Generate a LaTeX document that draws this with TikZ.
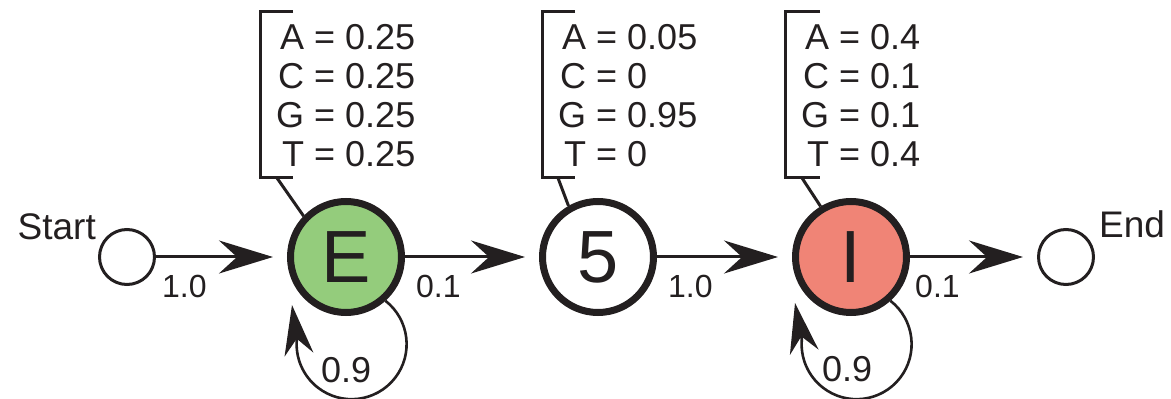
\documentclass[tikz,border=0pt]{standalone}
\usepackage{fontspec}
\setmainfont{Liberation Sans}
\usetikzlibrary{arrows.meta,calc}
\definecolor{ink}{RGB}{35,31,32}
\definecolor{exonfill}{RGB}{148,204,124}
\definecolor{intronfill}{RGB}{240,132,118}
\begin{document}
\begin{tikzpicture}[x=1pt,y=1pt,
  state/.style={circle, draw=ink, line width=7pt, minimum size=111pt, inner sep=0pt,
    font=\fontsize{74}{74}\selectfont, text=ink},
  term/.style={circle, draw=ink, line width=3pt, minimum size=55pt, inner sep=0pt},
  trans/.style={draw=ink, line width=3pt, shorten >=14pt,
    -{Stealth[length=54pt,width=33pt,inset=18pt]}},
  selfloop/.style={draw=ink, line width=2.6pt,
    -{Stealth[length=50pt,width=29pt,inset=16pt]}},
  bracket/.style={draw=ink, line width=3pt},
  emis/.style={inner sep=0pt, anchor=base west, text=ink,
    font=\fontsize{36}{38.7}\selectfont},
  plab/.style={inner sep=0pt, anchor=base west, text=ink,
    font=\fontsize{32}{32}\selectfont},
  looplab/.style={inner sep=0pt, anchor=base west, text=ink,
    font=\fontsize{36}{36}\selectfont},
  termlab/.style={inner sep=0pt, text=ink, font=\fontsize{37}{37}\selectfont}
]
\useasboundingbox (0,0) rectangle (1171,399);

% states
\node[term] (start) at (127,142) {};
\node[state, fill=exonfill] (E) at (346,142) {E};
\node[state, fill=white] (F) at (598,142) {5};
\node[state, fill=intronfill] (I) at (851,142) {I};
\node[term] (end) at (1066,142) {};

\node[termlab, anchor=base east] (startlab) at (96,159) {Start};
\node[termlab, anchor=base west] (endlab) at (1099,161) {End};

% transitions
\draw[trans] (start.east) -- (E.west);
\draw[trans] (E.east) -- (F.west);
\draw[trans] (F.east) -- (I.west);
\draw[trans] (I.east) -- (end.west);

\node[plab] (pSE) at (162,101) {1.0};
\node[plab] (pEF) at (416,101) {0.1};
\node[plab] (pFI) at (668,101) {1.0};
\node[plab] (pIX) at (915,101) {0.1};

% self transitions
\coordinate (Etip) at ($(E.center)+(-54,-48)$);
\coordinate (Itip) at ($(I.center)+(-56,-46)$);
\draw[selfloop] (E.-48) arc[start angle=52, end angle=-185, radius=55] -- (Etip);
\draw[selfloop] (I.-48) arc[start angle=52, end angle=-185, radius=55] -- (Itip);
\node[looplab] (pEE) at (321,16) {0.9};
\node[looplab] (pII) at (822,17) {0.9};

% emission brackets
\draw[bracket] (293,387) -- (260,387) -- (260,221) -- (293,221);
\coordinate (Ebr) at (277,221);
\draw[bracket] (Ebr) -- (E.136);
\node[emis] (Eem) at (276,349)
  {\begin{tabular}[t]{@{}r@{\ =\ }l@{}}A&0.25\\C&0.25\\G&0.25\\T&0.25\end{tabular}};

\draw[bracket] (575,387) -- (542,387) -- (542,221) -- (575,221);
\coordinate (Fbr) at (558,221);
\draw[bracket] (Fbr) -- (F.120);
\node[emis] (Fem) at (558,349)
  {\begin{tabular}[t]{@{}r@{\ =\ }l@{}}A&0.05\\C&0\\G&0.95\\T&0\end{tabular}};

\draw[bracket] (820,387) -- (785,387) -- (785,221) -- (820,221);
\coordinate (Ibr) at (802,221);
\draw[bracket] (Ibr) -- (I.121);
\node[emis] (Iem) at (801,349)
  {\begin{tabular}[t]{@{}r@{\ =\ }l@{}}A&0.4\\C&0.1\\G&0.1\\T&0.4\end{tabular}};
\end{tikzpicture}
\end{document}
